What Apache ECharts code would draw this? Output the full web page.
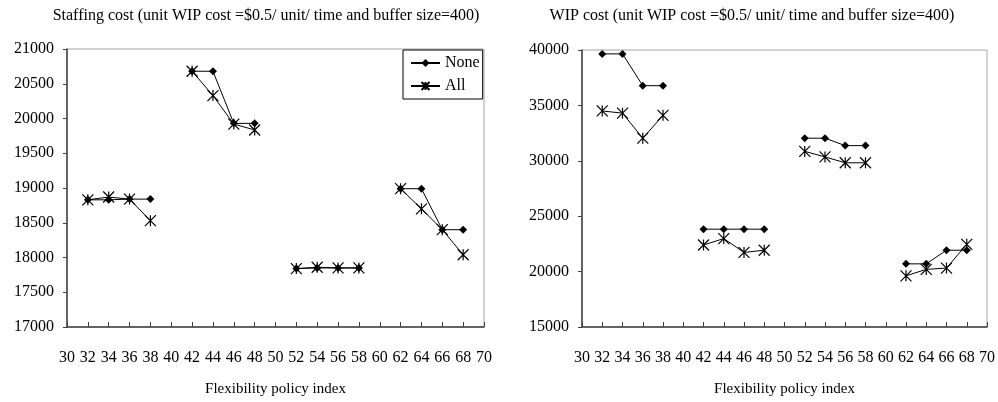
<!DOCTYPE html>
<html>
<head>
<meta charset="utf-8">
<script src="https://cdn.jsdelivr.net/npm/echarts@6/dist/echarts.min.js"></script>
<style>
  html, body { margin: 0; padding: 0; background: #fff; }
  #chart { width: 998px; height: 402px; }
</style>
</head>
<body>
<div id="chart"></div>
<script>
// Flexibility policy index (x), four groups of four
const policyIdx = [32, 34, 36, 38, 42, 44, 46, 48, 52, 54, 56, 58, 62, 64, 66, 68];

// Staffing cost
const staffNone = [18830, 18830, 18840, 18840, 20680, 20680, 19930, 19930, 17840, 17850, 17850, 17850, 18990, 18990, 18400, 18400];
const staffAll  = [18830, 18870, 18840, 18530, 20680, 20330, 19920, 19835, 17840, 17860, 17850, 17850, 18990, 18700, 18400, 18040];

// WIP cost
const wipNone = [39650, 39650, 36780, 36780, 23830, 23830, 23830, 23830, 32040, 32040, 31370, 31370, 20700, 20700, 21930, 21930];
const wipAll  = [34500, 34300, 32040, 34100, 22400, 22980, 21730, 21930, 30850, 30350, 29820, 29820, 19620, 20200, 20320, 22460];

const seriesNames = ['None', 'All'];
const titles = [
  'Staffing cost (unit WIP cost =$0.5/ unit/ time and buffer size=400)',
  'WIP cost (unit WIP cost =$0.5/ unit/ time and buffer size=400)'
];

const FONT = '"Liberation Serif", "Times New Roman", serif';
const asterisk = 'path://M0,0L10,10M10,0L0,10M5,0L5,10';

// insert a gap wherever consecutive x values are not adjacent, so groups are not joined
function withGaps(xs, ys) {
  const out = [];
  xs.forEach((x, i) => {
    if (i > 0 && x - xs[i - 1] > 2) out.push([x - 2, '-']);
    out.push([x, ys[i]]);
  });
  return out;
}

function makeSeries(name, data, idx) {
  const isNone = name === 'None';
  return {
    name: name,
    type: 'line',
    xAxisIndex: idx,
    yAxisIndex: idx,
    data: data,
    connectNulls: false,
    symbol: isNone ? 'diamond' : asterisk,
    symbolSize: isNone ? 8 : 11,
    lineStyle: { color: '#000', width: 1 },
    itemStyle: isNone
      ? { color: '#000' }
      : { color: 'transparent', borderColor: '#000', borderWidth: 1.2 },
    animation: false,
    z: isNone ? 3 : 4
  };
}

const chart = echarts.init(document.getElementById('chart'), null, { renderer: 'canvas' });

const grids = [
  { left: 67, top: 49, width: 417, height: 284 },
  { left: 582, top: 50, width: 405, height: 285 }
];

function xAxisCfg(idx) {
  return {
    type: 'value',
    gridIndex: idx,
    min: 30, max: 70, interval: 2,
    name: 'Flexibility policy index',
    nameLocation: 'middle',
    nameGap: 55,
    nameTextStyle: { fontFamily: FONT, fontSize: 15, color: '#000' },
    axisLine: { show: true, lineStyle: { color: '#404040', width: 1.5 } },
    axisTick: { show: true, inside: true, length: 5, lineStyle: { color: '#404040' } },
    axisLabel: { fontFamily: FONT, fontSize: 16, color: '#000', margin: 23 },
    splitLine: { show: false }
  };
}

function yAxisCfg(idx, min, max, step) {
  return {
    type: 'value',
    gridIndex: idx,
    min: min, max: max, interval: step,
    axisLine: { show: true, lineStyle: { color: '#404040', width: 1.5 } },
    axisTick: { show: true, length: 4, lineStyle: { color: '#404040' } },
    axisLabel: { fontFamily: FONT, fontSize: 16, color: '#000', margin: 13, formatter: v => String(v) },
    splitLine: { show: false }
  };
}

chart.setOption({
  backgroundColor: '#fff',
  animation: false,
  title: [
    { text: titles[0], left: 261, top: 3, textAlign: 'center',
      textStyle: { fontFamily: FONT, fontSize: 16, fontWeight: 'normal', color: '#000' } },
    { text: titles[1], left: 747, top: 3, textAlign: 'center',
      textStyle: { fontFamily: FONT, fontSize: 16, fontWeight: 'normal', color: '#000' } }
  ],
  legend: {
    data: seriesNames,
    orient: 'vertical',
    left: 403, top: 50,
    padding: [5, 3, 5, 7],
    itemWidth: 29, itemHeight: 10, itemGap: 7,
    borderColor: '#000', borderWidth: 1,
    backgroundColor: '#fff',
    textStyle: { fontFamily: FONT, fontSize: 16, color: '#000', lineHeight: 14 },
    z: 10
  },
  grid: grids.map(g => Object.assign({ show: true, borderColor: '#a6a6a6', borderWidth: 1 }, g)),
  xAxis: [xAxisCfg(0), xAxisCfg(1)],
  yAxis: [yAxisCfg(0, 17000, 21000, 500), yAxisCfg(1, 15000, 40000, 5000)],
  series: [
    makeSeries('None', withGaps(policyIdx, staffNone), 0),
    makeSeries('All', withGaps(policyIdx, staffAll), 0),
    makeSeries('None', withGaps(policyIdx, wipNone), 1),
    makeSeries('All', withGaps(policyIdx, wipAll), 1)
  ]
});
</script>
</body>
</html>
